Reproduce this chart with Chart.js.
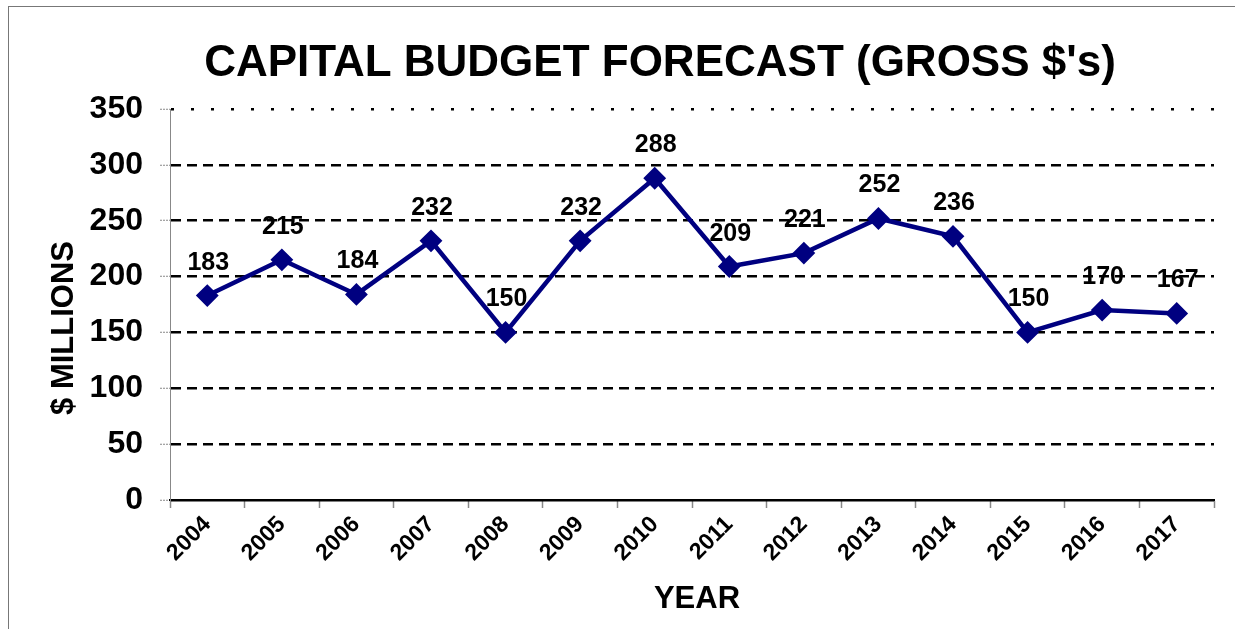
<!DOCTYPE html>
<html><head><meta charset="utf-8">
<script src="https://cdn.jsdelivr.net/npm/chart.js@4/dist/chart.umd.min.js"></script>
<style>
html,body{margin:0;padding:0;background:#fff;}
#wrap{position:relative;width:1235px;height:629px;overflow:hidden;background:#fff;}
#frame{position:absolute;left:8px;top:6px;width:1400px;height:800px;border-top:1px solid #777;border-left:1px solid #777;pointer-events:none;}
canvas{position:absolute;left:0;top:0;}
</style></head><body>
<div id="wrap"><canvas id="c" width="1235" height="629"></canvas><div id="frame"></div></div>
<script>
const years = ['2004','2005','2006','2007','2008','2009','2010','2011','2012','2013','2014','2015','2016','2017'];
const capital = [183, 215, 184, 232, 150, 232, 288, 209, 221, 252, 236, 150, 170, 167];
const yTickMin = 0;
const yTickMax = 350;
const yTickStep = 50;
const chartTitle = "CAPITAL BUDGET FORECAST (GROSS $'s)";
const yTitle = "$ MILLIONS";
const xTitle = "YEAR";

const FONT = "'Liberation Sans', Arial, Helvetica, sans-serif";

const textPlugin = {
  id: 'texts',
  beforeDraw(chart) {
    const ctx = chart.ctx;
    const meta = chart.getDatasetMeta(0);
    ctx.save();
    ctx.fillStyle = '#000';
    ctx.font = 'bold 25px ' + FONT;
    ctx.textAlign = 'center';
    ctx.textBaseline = 'alphabetic';
    meta.data.forEach((pt, i) => {
      ctx.fillText(String(chart.data.datasets[0].data[i]), pt.x + 1, pt.y - 26);
    });
    ctx.restore();
  },
  afterDraw(chart) {
    const ctx = chart.ctx;
    ctx.save();
    ctx.fillStyle = '#000';
    ctx.textAlign = 'center';
    ctx.textBaseline = 'alphabetic';
    ctx.font = 'bold 44px ' + FONT;
    ctx.fillText(chartTitle, 660, 76);
    ctx.font = 'bold 31px ' + FONT;
    ctx.fillText(xTitle, 697, 608);
    ctx.translate(73, 328);
    ctx.rotate(-Math.PI / 2);
    ctx.fillText(yTitle, 0, 0);
    ctx.restore();
  }
};

new Chart(document.getElementById('c'), {
  type: 'line',
  data: {
    labels: years,
    datasets: [{
      data: capital,
      borderColor: '#000080',
      backgroundColor: '#000080',
      borderWidth: 4.5,
      pointStyle: 'rectRot',
      pointRadius: 10,
      pointBorderWidth: 2,
      pointBackgroundColor: '#000080',
      pointBorderColor: '#000080',
      tension: 0,
      fill: false
    }]
  },
  options: {
    responsive: false,
    animation: false,
    devicePixelRatio: 1,
    layout: { padding: { top: 109, right: 21, left: 0, bottom: 0 } },
    plugins: { legend: { display: false }, title: { display: false }, tooltip: { enabled: false } },
    scales: {
      x: {
        offset: true,
        afterFit: s => { s.height = 129; },
        grid: { offset: true, drawOnChartArea: false, drawTicks: true, tickLength: 8, tickColor: '#888', tickWidth: 1.5 },
        border: { display: true, color: '#000', width: 2 },
        ticks: {
          autoSkip: false, minRotation: 45, maxRotation: 45, padding: 3,
          color: '#000', font: { family: FONT, size: 23, weight: 'bold' }
        }
      },
      y: {
        min: yTickMin, max: yTickMax,
        afterFit: s => { s.width = 170; },
        ticks: { stepSize: yTickStep, padding: 17, color: '#000', font: { family: FONT, size: 32, weight: 'bold' } },
        grid: {
          color: '#000',
          lineWidth: 2.5,
          drawTicks: true,
          tickLength: 10,
          tickColor: '#888',
          tickWidth: 1,
          tickBorderDash: [2, 1]
        },
        border: {
          display: true, color: '#888', width: 1,
          dash: ctx => {
            if (!ctx.tick) return [];
            if (ctx.tick.value === 0) return [];
            if (ctx.tick.value === 350) return [3, 17];
            return [10, 6];
          }
        }
      }
    }
  },
  plugins: [textPlugin]
});
</script>
</body></html>
